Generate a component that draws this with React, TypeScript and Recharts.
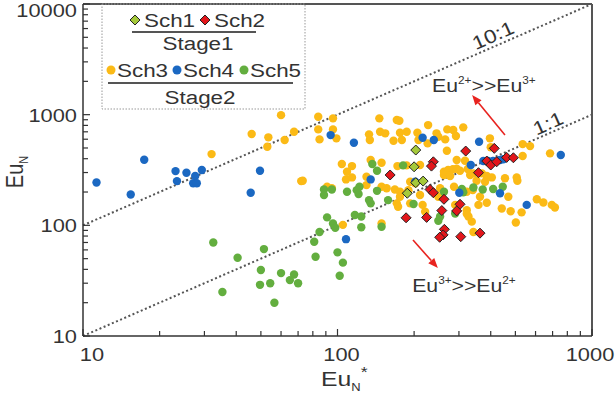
import React from 'react';
import { ScatterChart, Scatter, XAxis, YAxis, ReferenceLine, ReferenceDot } from 'recharts';

const xTicks = [10, 20, 30, 40, 50, 60, 70, 80, 90, 100, 200, 300, 400, 500, 600, 700, 800, 900, 1000];
const yTicks = [10, 20, 30, 40, 50, 60, 70, 80, 90, 100, 200, 300, 400, 500, 600, 700, 800, 900, 1000,
  2000, 3000, 4000, 5000, 6000, 7000, 8000, 9000, 10000];
const majorTicks = [10, 100, 1000, 10000];

// Stage1
const sch1 = [
  { x: 203, y: 479 }, { x: 200, y: 338 }, { x: 203, y: 243 }, { x: 217, y: 251 }, { x: 188, y: 195 },
];
const sch2 = [
  { x: 319, y: 469 }, { x: 413, y: 496 }, { x: 238, y: 375 }, { x: 234, y: 343 }, { x: 161, y: 285 },
  { x: 358, y: 299 }, { x: 386, y: 381 }, { x: 400, y: 351 }, { x: 422, y: 375 }, { x: 462, y: 411 },
  { x: 491, y: 408 }, { x: 231, y: 211 }, { x: 238, y: 197 }, { x: 262, y: 172 }, { x: 303, y: 155 },
  { x: 257, y: 136 }, { x: 294, y: 135 }, { x: 186, y: 117 }, { x: 224, y: 118 }, { x: 263, y: 92 },
  { x: 260, y: 82 }, { x: 252, y: 78 }, { x: 305, y: 79 }, { x: 363, y: 85 },
];
// Stage2
const sch3 = [
  { x: 32, y: 440 }, { x: 46, y: 668 }, { x: 53.5, y: 624 }, { x: 53, y: 513 }, { x: 62, y: 590 },
  { x: 67.5, y: 700 }, { x: 72, y: 251 }, { x: 60, y: 990 },
  { x: 84, y: 957 }, { x: 96, y: 926 }, { x: 84, y: 736 }, { x: 96, y: 736 }, { x: 85, y: 598 },
  { x: 99, y: 611 }, { x: 146, y: 926 }, { x: 171, y: 894 }, { x: 175, y: 881 }, { x: 227, y: 805 },
  { x: 312, y: 768 }, { x: 270, y: 736 }, { x: 285, y: 726 }, { x: 133, y: 664 }, { x: 147, y: 701 },
  { x: 154, y: 678 }, { x: 134, y: 590 }, { x: 176, y: 686 }, { x: 187, y: 701 }, { x: 166, y: 581 },
  { x: 179, y: 590 }, { x: 206, y: 686 }, { x: 208, y: 590 }, { x: 245, y: 678 }, { x: 249, y: 631 },
  { x: 265, y: 598 }, { x: 292, y: 641 }, { x: 226, y: 550 }, { x: 269, y: 472 }, { x: 397, y: 611 },
  { x: 400, y: 507 }, { x: 534, y: 542 }, { x: 571, y: 520 }, { x: 534, y: 423 }, { x: 684, y: 447 },
  { x: 104, y: 358 }, { x: 114, y: 343 }, { x: 135, y: 389 }, { x: 149, y: 368 }, { x: 172, y: 343 },
  { x: 187, y: 348 }, { x: 211, y: 351 }, { x: 294, y: 389 }, { x: 317, y: 383 }, { x: 262, y: 305 },
  { x: 272, y: 316 }, { x: 284, y: 321 }, { x: 294, y: 325 }, { x: 303, y: 311 }, { x: 262, y: 285 },
  { x: 277, y: 279 }, { x: 325, y: 323 }, { x: 332, y: 285 }, { x: 342, y: 295 }, { x: 369, y: 295 },
  { x: 386, y: 279 }, { x: 404, y: 271 }, { x: 455, y: 266 }, { x: 506, y: 271 }, { x: 509, y: 253 },
  { x: 352, y: 253 }, { x: 380, y: 248 }, { x: 109, y: 305 }, { x: 108, y: 260 }, { x: 114, y: 271 },
  { x: 130, y: 275 }, { x: 73, y: 253 }, { x: 91, y: 223 }, { x: 95, y: 216 }, { x: 130, y: 231 },
  { x: 149, y: 223 }, { x: 156, y: 216 }, { x: 168, y: 211 }, { x: 176, y: 201 }, { x: 193, y: 248 },
  { x: 202, y: 240 }, { x: 190, y: 208 }, { x: 176, y: 181 }, { x: 211, y: 188 }, { x: 253, y: 216 },
  { x: 249, y: 181 }, { x: 287, y: 223 }, { x: 322, y: 201 }, { x: 340, y: 208 }, { x: 363, y: 181 },
  { x: 358, y: 153 }, { x: 386, y: 160 }, { x: 469, y: 181 }, { x: 171, y: 158 }, { x: 173, y: 147 },
  { x: 193, y: 158 }, { x: 216, y: 153 }, { x: 221, y: 133 }, { x: 290, y: 153 }, { x: 322, y: 137 },
  { x: 322, y: 127 }, { x: 327, y: 120 }, { x: 337, y: 108 }, { x: 442, y: 142 }, { x: 479, y: 134 },
  { x: 529, y: 131 }, { x: 607, y: 172 }, { x: 644, y: 161 }, { x: 695, y: 153 }, { x: 715, y: 145 },
  { x: 502, y: 106 }, { x: 105, y: 101 }, { x: 149, y: 104 }, { x: 342, y: 87 },
];
const sch4 = [
  { x: 11.3, y: 244 }, { x: 17.4, y: 392 }, { x: 15.4, y: 190 }, { x: 23.1, y: 309 }, { x: 23.4, y: 251 },
  { x: 25.5, y: 299 }, { x: 27.6, y: 279 }, { x: 29.3, y: 316 }, { x: 27.1, y: 240 }, { x: 28.0, y: 240 },
  { x: 49.6, y: 311 }, { x: 45.6, y: 197 }, { x: 94, y: 654 }, { x: 116, y: 557 }, { x: 216, y: 618 },
  { x: 239, y: 590 }, { x: 360, y: 569 }, { x: 334, y: 351 }, { x: 374, y: 381 }, { x: 391, y: 381 },
  { x: 409, y: 381 }, { x: 435, y: 389 }, { x: 448, y: 395 }, { x: 135, y: 260 }, { x: 202, y: 248 },
  { x: 301, y: 197 }, { x: 435, y: 195 }, { x: 554, y: 153 }, { x: 754, y: 432 }, { x: 108, y: 75 },
];
const sch5 = [
  { x: 32.5, y: 70 }, { x: 40.5, y: 51 }, { x: 51.4, y: 61 }, { x: 50, y: 39.5 }, { x: 60, y: 37 },
  { x: 67.5, y: 36 }, { x: 65, y: 32 }, { x: 70, y: 30 }, { x: 49.6, y: 29 }, { x: 54.4, y: 30 },
  { x: 35.3, y: 25 }, { x: 56.5, y: 20 },
  { x: 137, y: 358 }, { x: 143, y: 311 }, { x: 181, y: 348 }, { x: 88.5, y: 211 }, { x: 95, y: 211 },
  { x: 109, y: 201 }, { x: 119, y: 208 }, { x: 122, y: 223 }, { x: 121, y: 192 }, { x: 143, y: 205 },
  { x: 158, y: 169 }, { x: 133, y: 169 }, { x: 135, y: 158 }, { x: 88.5, y: 188 }, { x: 262, y: 201 },
  { x: 308, y: 213 }, { x: 312, y: 199 }, { x: 342, y: 220 }, { x: 372, y: 211 }, { x: 409, y: 213 },
  { x: 446, y: 223 }, { x: 290, y: 128 }, { x: 199, y: 156 }, { x: 249, y: 110 }, { x: 253, y: 120 },
  { x: 117, y: 124 }, { x: 124, y: 120 }, { x: 124, y: 96 }, { x: 149, y: 97 }, { x: 91, y: 118 },
  { x: 96, y: 104 }, { x: 98, y: 95 }, { x: 85, y: 87 }, { x: 81, y: 71 },
  { x: 100, y: 57 }, { x: 105, y: 46 }, { x: 102, y: 35 }, { x: 82, y: 52 },
];

const line10to1 = [{ x: 10, y: 100 }, { x: 1000, y: 10000 }];
const line1to1 = [{ x: 10, y: 10 }, { x: 1000, y: 1000 }];
const arrowUp = [{ x: 455, y: 654 }, { x: 338, y: 1503 }];
const arrowDown = [{ x: 198, y: 73.6 }, { x: 248, y: 41.1 }];

const FONT = "'Liberation Sans', Arial, Helvetica, sans-serif";
const SX = 1.18;
const TXT = '#333';
const YELLOW = '#FBBA16';
const BLUE = '#1B68C2';
const GREEN = '#63AE3F';
const RED = '#E2161B';
const LIME = '#A5C93A';
const ARROW = '#E8231F';
const xLabelNudge: Record<number, number> = { 10: 9, 100: 4, 1000: -2 };

const XTick = (props: any) => {
  const { x, y, payload } = props;
  const v = payload.value;
  const major = majorTicks.includes(v);
  return (
    <g>
      <line x1={x} x2={x} y1={y} y2={y - (major ? 7 : 5)} stroke="#333" strokeWidth={1.2} />
      {major && (
        <text transform={`translate(${x + (xLabelNudge[v] || 0)},${y + 25}) scale(${SX},1)`} textAnchor="middle"
          fontSize={18.5} fill={TXT} fontFamily={FONT}>{v}</text>
      )}
    </g>
  );
};

const YTick = (props: any) => {
  const { x, y, payload } = props;
  const v = payload.value;
  const major = majorTicks.includes(v);
  const by = Math.max(y + 7, 17);
  return (
    <g>
      <line x1={x} x2={x + (major ? 7 : 5)} y1={y} y2={y} stroke="#333" strokeWidth={1.2} />
      {major && (
        <text transform={`translate(${x - 6},${by}) scale(${SX},1)`} textAnchor="end" fontSize={18.5}
          fill={TXT} fontFamily={FONT}>{v}</text>
      )}
    </g>
  );
};

const circleShape = (color: string) => (p: any) => <circle cx={p.cx} cy={p.cy} r={4.2} fill={color} />;
const diamondShape = (color: string) => (p: any) => (
  <polygon points={`${p.cx},${p.cy - 5} ${p.cx + 5},${p.cy} ${p.cx},${p.cy + 5} ${p.cx - 5},${p.cy}`}
    fill={color} stroke="#222" strokeWidth={1} />
);

const ArrowShape = (p: any) => {
  const { x1, y1, x2, y2 } = p;
  const a = Math.atan2(y2 - y1, x2 - x1);
  const L = 10, W = 4;
  const bx = x2 - L * Math.cos(a), by = y2 - L * Math.sin(a);
  const px = -Math.sin(a) * W, py = Math.cos(a) * W;
  return (
    <g>
      <line x1={x1} y1={y1} x2={bx} y2={by} stroke={ARROW} strokeWidth={1.6} />
      <polygon points={`${x2},${y2} ${bx + px},${by + py} ${bx - px},${by - py}`} fill={ARROW} />
    </g>
  );
};

const RotLabel = (text: string) => (p: any) => (
  <text transform={`translate(${p.cx},${p.cy}) rotate(-24) scale(${SX},1)`} textAnchor="middle"
    dominantBaseline="central" fontSize={19} fill={TXT} fontFamily={FONT}>{text}</text>
);

const EuLabel = (a: string, b: string) => (p: any) => (
  <text transform={`translate(${p.cx},${p.cy + 7}) scale(${SX},1)`} textAnchor="middle" fontSize={18}
    fill={TXT} fontFamily={FONT}>
    Eu<tspan fontSize={10} dy={-8}>{a}</tspan><tspan dy={8}>&gt;&gt;Eu</tspan><tspan fontSize={10} dy={-8}>{b}</tspan>
  </text>
);

const SText = ({ x, y, size = 19, anchor = 'start', children }: any) => (
  <text transform={`translate(${x},${y}) scale(${SX},1)`} textAnchor={anchor} fontSize={size} fill={TXT}
    fontFamily={FONT}>{children}</text>
);

const Diamond = ({ cx, cy, fill }: any) => (
  <polygon points={`${cx},${cy - 5} ${cx + 5},${cy} ${cx},${cy + 5} ${cx - 5},${cy}`} fill={fill} stroke="#222" strokeWidth={1} />
);

export default function App() {
  return (
    <div style={{ position: 'absolute', left: 0, top: 0, width: 616, height: 395, background: '#fff' }}>
      <ScatterChart width={616} height={395} margin={{ top: 4, right: 24, bottom: 0, left: 0 }}>
        <XAxis type="number" dataKey="x" scale="log" domain={[10, 1000]} ticks={xTicks} interval={0}
          allowDataOverflow height={59} tickSize={0} tickMargin={0} tick={<XTick />}
          axisLine={{ stroke: '#333', strokeWidth: 1.5 }} tickLine={false} />
        <YAxis type="number" dataKey="y" scale="log" domain={[10, 10000]} ticks={yTicks} interval={0}
          allowDataOverflow width={83} tickSize={0} tickMargin={0} tick={<YTick />}
          axisLine={{ stroke: '#333', strokeWidth: 1.5 }} tickLine={false} />
        <ReferenceLine y={10000} stroke="#555" strokeWidth={2} />
        <ReferenceLine x={1000} stroke="#555" strokeWidth={2} />
        <ReferenceLine segment={line10to1} stroke="#555" strokeWidth={2} strokeDasharray="2 2.5" />
        <ReferenceLine segment={line1to1} stroke="#555" strokeWidth={2} strokeDasharray="2 2.5" />
        <Scatter data={sch3} shape={circleShape(YELLOW)} isAnimationActive={false} />
        <Scatter data={sch5} shape={circleShape(GREEN)} isAnimationActive={false} />
        <Scatter data={sch4} shape={circleShape(BLUE)} isAnimationActive={false} />
        <Scatter data={sch2} shape={diamondShape(RED)} isAnimationActive={false} />
        <Scatter data={sch1} shape={diamondShape(LIME)} isAnimationActive={false} />
        <ReferenceLine segment={arrowUp} shape={ArrowShape} />
        <ReferenceLine segment={arrowDown} shape={ArrowShape} />
        <ReferenceDot x={408} y={5240} r={0} shape={RotLabel('10:1')} />
        <ReferenceDot x={671} y={840} r={0} shape={RotLabel('1:1')} />
        <ReferenceDot x={376} y={1850} r={0} shape={EuLabel('2+', '3+')} />
        <ReferenceDot x={314} y={28.9} r={0} shape={EuLabel('3+', '2+')} />
      </ScatterChart>
      <svg width={616} height={395} style={{ position: 'absolute', left: 0, top: 0, pointerEvents: 'none' }}>
        <rect x={102} y={4} width={203} height={105} fill="none" stroke="#999" strokeWidth={1} strokeDasharray="1.5 1.5" />
        <Diamond cx={135} cy={20} fill={LIME} />
        <SText x={144} y={27}>Sch1</SText>
        <Diamond cx={205} cy={20} fill={RED} />
        <SText x={214} y={27}>Sch2</SText>
        <line x1={132} x2={256} y1={32} y2={32} stroke="#555" strokeWidth={2} />
        <SText x={198} y={50} anchor="middle">Stage1</SText>
        <circle cx={111} cy={70} r={4.5} fill={YELLOW} />
        <SText x={117} y={77}>Sch3</SText>
        <circle cx={177} cy={70} r={4.5} fill={BLUE} />
        <SText x={183} y={77}>Sch4</SText>
        <circle cx={244} cy={70} r={4.5} fill={GREEN} />
        <SText x={250} y={77}>Sch5</SText>
        <line x1={108} x2={293} y1={83} y2={83} stroke="#555" strokeWidth={2} />
        <SText x={200} y={104} anchor="middle">Stage2</SText>
        <text transform={`translate(23,172) scale(${SX},1) rotate(-90)`} textAnchor="middle" fontSize={20}
          fill={TXT} fontFamily={FONT}>Eu<tspan fontSize={11} dy={4}>N</tspan></text>
        <text transform={`translate(321,386) scale(${SX},1)`} textAnchor="start" fontSize={21}
          fill={TXT} fontFamily={FONT}>Eu<tspan fontSize={11} dy={5}>N</tspan><tspan fontSize={15} dy={-14}>*</tspan></text>
      </svg>
    </div>
  );
}
